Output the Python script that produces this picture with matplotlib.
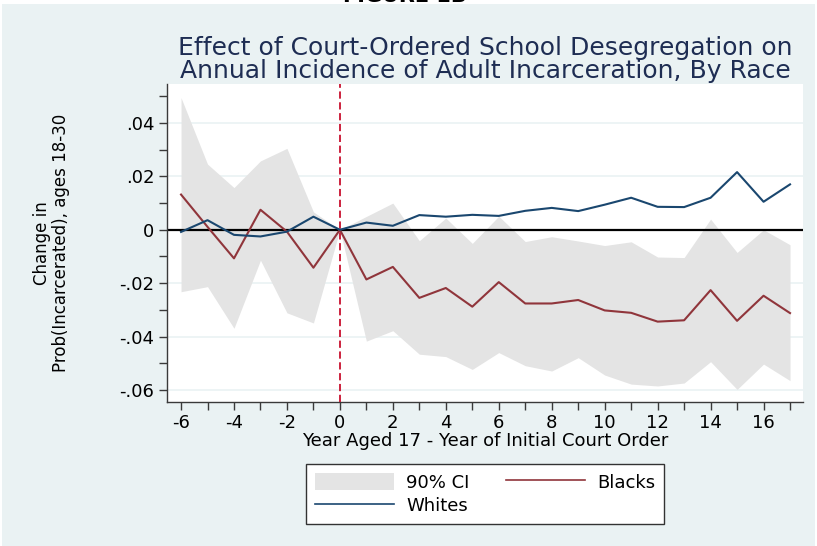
import matplotlib
matplotlib.use('agg')
import matplotlib.pyplot as plt
from matplotlib.patches import Rectangle, Patch
from matplotlib.lines import Line2D

plt.rcParams['font.family'] = ['DejaVu Sans']
plt.rcParams['axes.unicode_minus'] = False

# event time: year aged 17 minus year of initial court order
years = list(range(-6, 18))

whites = [-0.0008, 0.0036, -0.0019, -0.0025, -0.0007, 0.0049, 0.0, 0.0027, 0.0015,
          0.0055, 0.0049, 0.0056, 0.0052, 0.0071, 0.0082, 0.0070, 0.0094, 0.0120,
          0.0086, 0.0085, 0.0120, 0.0216, 0.0105, 0.0170]

blacks = [0.0132, 0.0011, -0.0107, 0.0075, -0.0007, -0.0142, 0.0, -0.0186, -0.0139,
          -0.0255, -0.0218, -0.0288, -0.0196, -0.0276, -0.0276, -0.0263, -0.0302,
          -0.0311, -0.0344, -0.0339, -0.0226, -0.0341, -0.0247, -0.0312]

ci_upper = [0.0495, 0.0246, 0.0158, 0.0258, 0.0305, 0.0067, 0.0, 0.0050, 0.0100,
            -0.0041, 0.0044, -0.0051, 0.0051, -0.0044, -0.0026, -0.0042, -0.0059,
            -0.0045, -0.0102, -0.0104, 0.0040, -0.0085, 0.0, -0.0056]

ci_lower = [-0.0232, -0.0213, -0.0369, -0.0114, -0.0311, -0.0349, 0.0, -0.0417,
            -0.0378, -0.0466, -0.0475, -0.0523, -0.0460, -0.0509, -0.0529, -0.0479,
            -0.0544, -0.0578, -0.0585, -0.0574, -0.0494, -0.0598, -0.0503, -0.0565]

ytick_vals = [-0.06, -0.04, -0.02, 0, 0.02, 0.04]
ytick_labels = ['-.06', '-.04', '-.02', '0', '.02', '.04']
xtick_vals = list(range(-6, 17, 2))

BG = '#eaf2f3'
NAVY = '#1a476f'
MAROON = '#90353b'
CI_GREY = '#e4e4e4'

W, H = 817, 546
fig = plt.figure(figsize=(W / 100, H / 100), dpi=100, facecolor='white')
fig.patches.append(Rectangle((2 / W, 0), 813 / W, 1 - 4 / H, transform=fig.transFigure,
                             facecolor=BG, edgecolor='none', zorder=-10))

# heading of the page, clipped at the top edge as in the scan
fig.text(405 / W, 1 - 2 / H, 'FIGURE 1B', ha='center', va='baseline',
         fontsize=15, fontweight='bold', color='black')

ax = fig.add_axes([167 / W, 1 - 402 / H, 636 / W, 318 / H])
ax.set_facecolor('white')

ax.fill_between(years, ci_lower, ci_upper, color=CI_GREY, lw=0, zorder=1)
ax.axhline(0, color='black', lw=1.6, zorder=2)
ax.axvline(0, color='#c8102e', lw=1.3, ls=(0, (4, 2)), zorder=3)
ax.plot(years, blacks, color=MAROON, lw=1.5, zorder=4)
ax.plot(years, whites, color=NAVY, lw=1.5, zorder=5)

ax.set_xlim(-6.53, 17.49)
ax.set_ylim(-0.0645, 0.0546)

ax.set_yticks(ytick_vals)
ax.set_yticklabels(ytick_labels)
ax.set_yticks([-0.05, -0.03, -0.01, 0.01, 0.03, 0.05], minor=True)
ax.set_xticks(xtick_vals)
ax.set_xticks(list(range(-5, 18, 2)), minor=True)
for v in ytick_vals:
    ax.axhline(v, color=BG, lw=1.2, zorder=0)

for s in ['top', 'right']:
    ax.spines[s].set_visible(False)
for s in ['left', 'bottom']:
    ax.spines[s].set_color('#3a3a3a')
    ax.spines[s].set_linewidth(1.0)

ax.tick_params(which='both', direction='out', length=6, width=1.0, color='#3a3a3a',
               labelsize=13, labelcolor='black', pad=3)

ax.set_xlabel('Year Aged 17 - Year of Initial Court Order', fontsize=13, labelpad=0)
ax.set_ylabel('Change in\nProb(Incarcerated), ages 18-30', fontsize=12,
              linespacing=1.05)
ax.yaxis.set_label_coords((70 - 167) / 636, 0.5)

ax.set_title('Effect of Court-Ordered School Desegregation on\n'
             'Annual Incidence of Adult Incarceration, By Race',
             fontsize=18, color='#1e2d53', pad=4, linespacing=0.98)

handles = [Patch(facecolor=CI_GREY, edgecolor='none'),
           Line2D([], [], color=NAVY, lw=1.2),
           Line2D([], [], color=MAROON, lw=1.2)]
labels = ['90% CI', 'Whites', 'Blacks']
leg = fig.legend(handles, labels, ncol=2, loc='center',
                 bbox_to_anchor=(485 / W, 1 - 494 / H), fontsize=13, frameon=True,
                 fancybox=False, edgecolor='#333333', facecolor='white',
                 framealpha=1, handlelength=4.4,
                 handleheight=1.1, columnspacing=2.0, labelspacing=0.25,
                 borderpad=0.5, handletextpad=0.65)
leg.get_frame().set_linewidth(1.0)

fig.savefig('out.png', dpi=100, facecolor=fig.get_facecolor())
